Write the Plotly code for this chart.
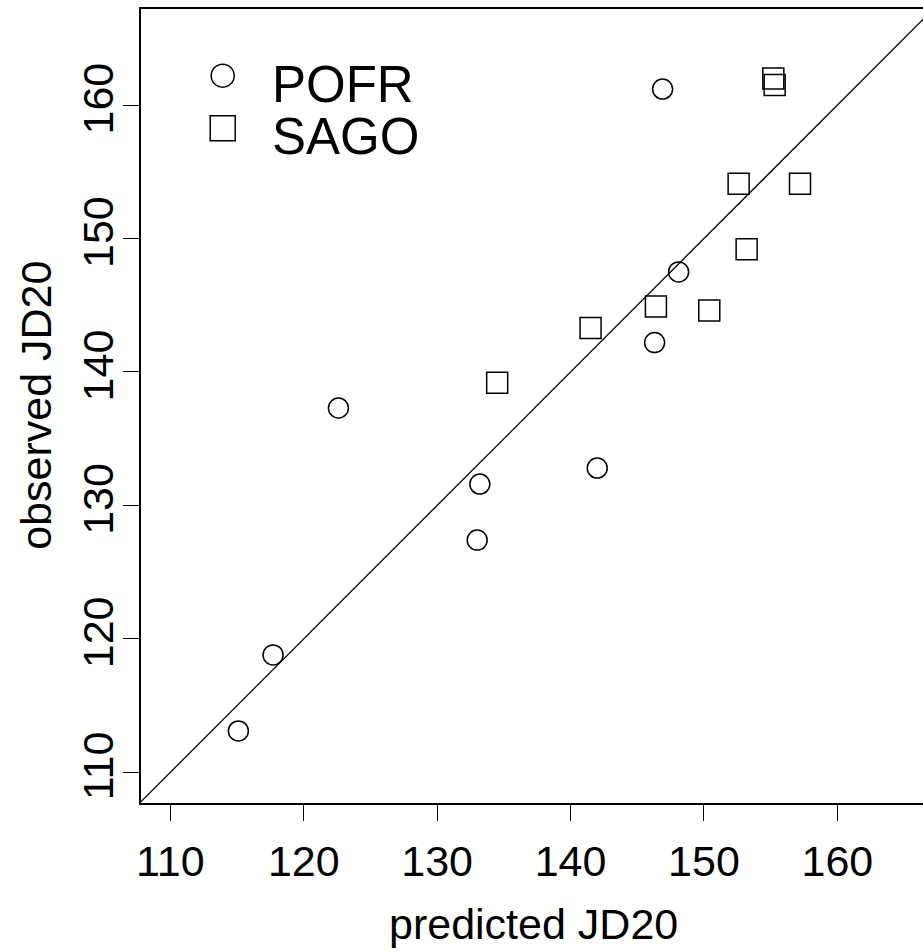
import plotly.graph_objects as go

# Data
pofr_pred = [115.1, 117.7, 122.6, 133.2, 133.0, 142.0, 146.3, 148.1, 146.9]
pofr_obs = [113.1, 118.8, 137.3, 131.6, 127.4, 132.8, 142.2, 147.5, 161.2]
sago_pred = [134.5, 141.5, 146.4, 150.4, 152.6, 157.2, 153.2, 155.2, 155.3]
sago_obs = [139.2, 143.3, 144.9, 144.6, 154.1, 154.1, 149.2, 162.0, 161.5]

x_ticks = [110, 120, 130, 140, 150, 160]
y_ticks = [110, 120, 130, 140, 150, 160]
x_range = [107.8, 166.42]
y_range = [107.7, 167.2]

W, H = 923, 952
ML, MR, MT, MB = 141, 0, 9, 149
PW = W - ML - MR
PH = H - MT - MB

FONT = "Liberation Sans, Arial, Helvetica, sans-serif"


def px2paper_x(px):
    return (px - ML) / PW


def px2paper_y(py):
    return (H - MB - py) / PH


fig = go.Figure()

# identity line y = x across the axis range
line_vals = [min(x_range[0], y_range[0]) - 5, max(x_range[1], y_range[1]) + 5]
fig.add_trace(go.Scatter(x=line_vals, y=line_vals, mode="lines",
                         line=dict(color="black", width=1.3),
                         hoverinfo="skip", showlegend=False))

fig.add_trace(go.Scatter(x=pofr_pred, y=pofr_obs, mode="markers", name="POFR",
                         marker=dict(symbol="circle-open", size=20,
                                     color="black", line=dict(width=1.5, color="black")),
                         showlegend=False))
fig.add_trace(go.Scatter(x=sago_pred, y=sago_obs, mode="markers", name="SAGO",
                         marker=dict(symbol="square-open", size=21,
                                     color="black", line=dict(width=1.5, color="black")),
                         showlegend=False))

axis_common = dict(showgrid=False, zeroline=False, showline=True, linecolor="black",
                   linewidth=2, ticks="outside", ticklen=16, tickwidth=1.3,
                   tickcolor="black", tickfont=dict(family=FONT, size=43, color="black"))

fig.update_xaxes(range=x_range, tickvals=x_ticks, ticktext=[str(v) for v in x_ticks],
                 mirror=True, ticklabelstandoff=3, **axis_common)
fig.update_yaxes(range=y_range, tickvals=y_ticks, ticktext=[str(v) for v in y_ticks],
                 mirror=False, tickangle=-90, ticklabelstandoff=-7, **axis_common)

# legend drawn manually
shapes = []
cx, cy, r = 222.7, 75.7, 11.5
shapes.append(dict(type="circle", xref="paper", yref="paper",
                   x0=px2paper_x(cx - r), x1=px2paper_x(cx + r),
                   y0=px2paper_y(cy + r), y1=px2paper_y(cy - r),
                   line=dict(color="black", width=1.5)))
sx, sy, h = 222.7, 128.3, 12.5
shapes.append(dict(type="rect", xref="paper", yref="paper",
                   x0=px2paper_x(sx - h), x1=px2paper_x(sx + h),
                   y0=px2paper_y(sy + h), y1=px2paper_y(sy - h),
                   line=dict(color="black", width=1.5)))

annotations = [
    dict(text="POFR", x=px2paper_x(270), y=px2paper_y(84.5), xref="paper", yref="paper",
         xanchor="left", yanchor="middle", showarrow=False,
         font=dict(family=FONT, size=51, color="black")),
    dict(text="SAGO", x=px2paper_x(270), y=px2paper_y(136), xref="paper", yref="paper",
         xanchor="left", yanchor="middle", showarrow=False,
         font=dict(family=FONT, size=51, color="black")),
    dict(text="predicted JD20", x=px2paper_x(533), y=px2paper_y(924), xref="paper", yref="paper",
         xanchor="center", yanchor="middle", showarrow=False,
         font=dict(family=FONT, size=43, color="black")),
    dict(text="observed JD20", x=px2paper_x(36), y=px2paper_y(405.8), xref="paper", yref="paper",
         xanchor="center", yanchor="middle", showarrow=False, textangle=-90,
         font=dict(family=FONT, size=43, color="black")),
]

fig.update_layout(width=W, height=H,
                  margin=dict(l=ML, r=MR, t=MT, b=MB, pad=0),
                  paper_bgcolor="white", plot_bgcolor="white",
                  shapes=shapes, annotations=annotations,
                  showlegend=False)

fig.write_html("out.html", config={"displayModeBar": False},
               post_script="document.body.style.margin='0px';document.body.style.overflow='hidden';")
